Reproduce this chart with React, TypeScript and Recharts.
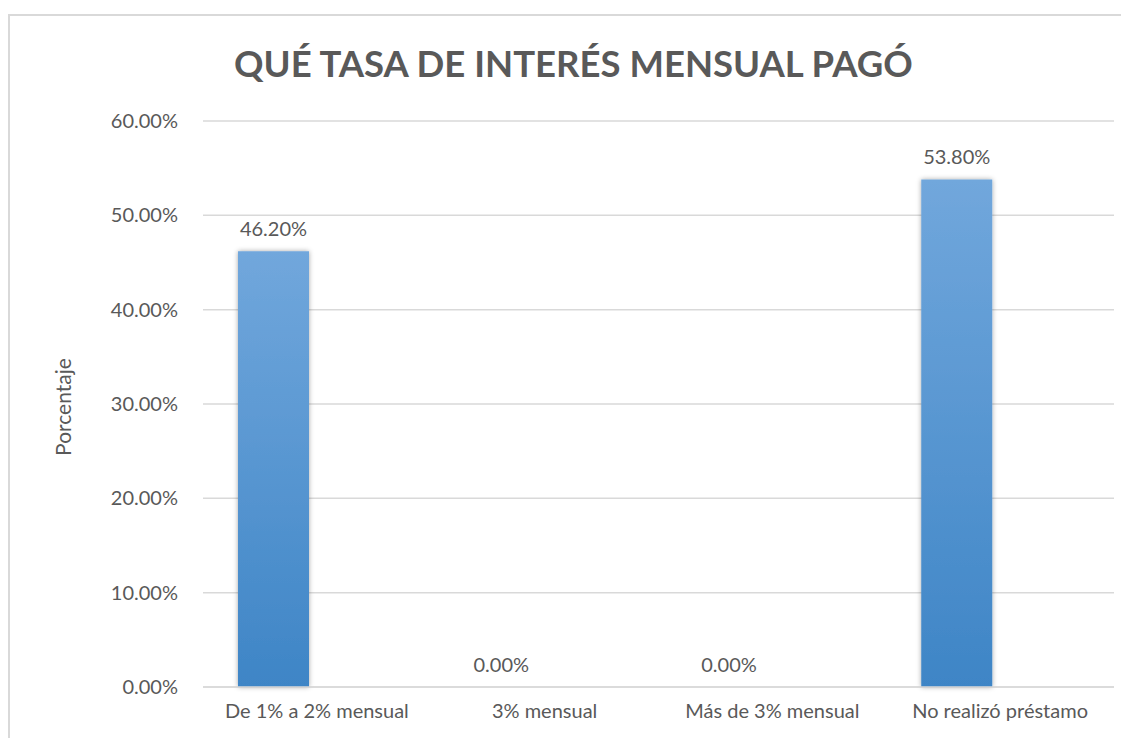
import React from 'react';
import { BarChart, Bar, XAxis, YAxis, CartesianGrid, LabelList, Label } from 'recharts';

const categories = ['De 1% a 2% mensual', '3% mensual', 'Más de 3% mensual', 'No realizó préstamo'];
const porcentajes = [46.2, 0, 0, 53.8];
const yTicks = [0, 10, 20, 30, 40, 50, 60];
const title = 'QUÉ TASA DE INTERÉS MENSUAL PAGÓ';
const yTitle = 'Porcentaje';

const data = categories.map((c, i) => ({ categoria: c, porcentaje: porcentajes[i] }));

const FONT = 'Lato, "Open Sans", sans-serif';
const TEXT = '#595959';

const fmt = (v: any) => {
  const n = Number(Array.isArray(v) ? v[1] : v);
  return isNaN(n) ? '' : n.toFixed(2) + '%';
};

export default function App() {
  return (
    <div style={{ position: 'relative', width: 1121, height: 730, overflow: 'hidden', fontFamily: FONT }}>
      <div
        style={{
          position: 'absolute',
          left: 0,
          top: 6,
          width: 1140,
          height: 760,
          border: '2px solid #d9d9d9',
          boxSizing: 'border-box',
        }}
      />
      <div
        style={{
          position: 'absolute',
          left: 0,
          top: 33,
          width: 1131,
          textAlign: 'center',
          fontFamily: FONT,
          fontWeight: 700,
          fontSize: 36.5,
          lineHeight: 'normal',
          color: TEXT,
          whiteSpace: 'nowrap',
        }}
      >
        {title}
      </div>
      <div style={{ position: 'absolute', left: 0, top: 0 }}>
        <BarChart
          width={1121}
          height={730}
          data={data}
          margin={{ top: 113, right: 15, bottom: 0, left: 0 }}
          barCategoryGap={35}
          barGap={15.5}
        >
          <defs>
            <linearGradient id="barGrad" x1="0" y1="0" x2="0" y2="1">
              <stop offset="0%" stopColor="#71a7dc" />
              <stop offset="100%" stopColor="#3e85c6" />
            </linearGradient>
            <filter id="barShadow" x="-20%" y="-5%" width="140%" height="110%">
              <feDropShadow dx="0" dy="0" stdDeviation="2.5" floodColor="#000" floodOpacity="0.35" />
            </filter>
          </defs>
          <CartesianGrid vertical={false} stroke="#d9d9d9" strokeWidth={1.5} />
          <XAxis
            dataKey="categoria"
            height={51}
            tickLine={false}
            tickSize={0}
            tickMargin={17}
            axisLine={{ stroke: '#d9d9d9', strokeWidth: 1.5 }}
            tick={{ fill: TEXT, fontSize: 20, fontFamily: FONT }}
            interval={0}
          />
          <YAxis
            width={195}
            domain={[0, 60]}
            ticks={yTicks}
            tickFormatter={fmt}
            axisLine={false}
            tickLine={false}
            tickSize={0}
            tickMargin={25}
            tick={{ fill: TEXT, fontSize: 20, fontFamily: FONT }}
          >
            <Label
              content={(props: any) => {
                const vb = props.viewBox || {};
                const x = (vb.x || 0) + 54;
                const y = (vb.y || 0) + (vb.height || 0) / 2 + 3;
                return (
                  <text
                    x={x}
                    y={y}
                    transform={`rotate(-90, ${x}, ${y})`}
                    textAnchor="middle"
                    dominantBaseline="central"
                    fill={TEXT}
                    fontSize={21}
                    fontFamily={FONT}
                  >
                    {yTitle}
                  </text>
                );
              }}
            />
          </YAxis>
          <Bar
            dataKey="porcentaje"
            fill="url(#barGrad)"
            filter="url(#barShadow)"
            minPointSize={0.01}
            isAnimationActive={false}
          >
            <LabelList dataKey="porcentaje" position="top" offset={15} formatter={fmt} fill={TEXT} fontSize={20} fontFamily={FONT} />
          </Bar>
          <Bar dataKey="serie2" fill="transparent" isAnimationActive={false} />
        </BarChart>
      </div>
    </div>
  );
}
